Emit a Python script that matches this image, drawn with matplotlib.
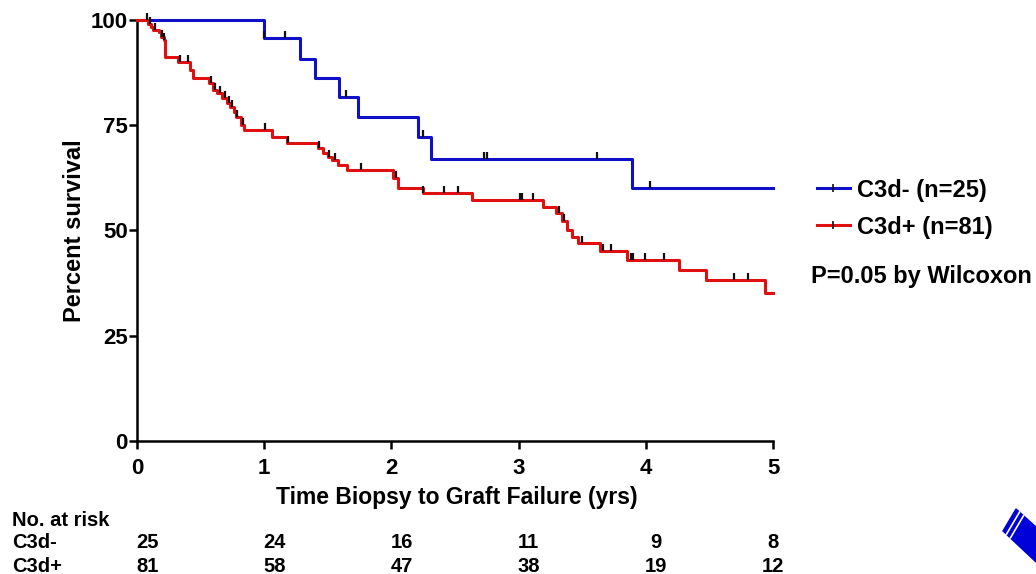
import matplotlib
matplotlib.use("Agg")
import matplotlib.pyplot as plt
from matplotlib.path import Path
from matplotlib.patches import Polygon
import numpy as np

plt.rcParams["font.family"] = ["Liberation Sans", "DejaVu Sans"]
plt.rcParams["font.weight"] = "bold"

# Kaplan-Meier steps (time in yrs, percent survival after the drop)
neg_times = [0.0, 1.00, 1.28, 1.40, 1.59, 1.74, 2.21, 2.31, 3.89]
neg_surv = [100.0, 95.7, 90.7, 86.2, 81.7, 77.0, 72.2, 67.0, 60.1]
neg_censor = [0.08, 1.00, 1.16, 1.64, 2.25, 2.73, 2.75, 3.62, 4.03]

pos_times = [0.0, 0.09, 0.11, 0.13, 0.17, 0.19, 0.21, 0.22, 0.32, 0.42, 0.44,
             0.57, 0.60, 0.63, 0.67, 0.71, 0.73, 0.76, 0.78, 0.82, 0.84,
             1.06, 1.18, 1.42, 1.46, 1.50, 1.53, 1.58, 1.65, 2.01, 2.05,
             2.25, 2.63, 3.19, 3.29, 3.34, 3.38, 3.42, 3.47, 3.64, 3.85,
             4.26, 4.47, 4.94]
pos_surv = [100.0, 99.0, 98.4, 97.6, 97.2, 96.0, 95.2, 91.3, 90.1, 88.1, 86.1,
            85.0, 83.4, 82.6, 81.4, 80.2, 79.4, 78.2, 77.0, 75.1, 73.9,
            72.2, 70.8, 69.6, 68.4, 67.5, 66.7, 65.6, 64.3, 62.5, 60.1,
            58.9, 57.2, 55.6, 54.2, 52.3, 50.1, 48.5, 47.0, 45.1, 43.0,
            40.6, 38.2, 35.2]
pos_censor = [0.10, 0.14, 0.20, 0.21, 0.34, 0.40, 0.58, 0.61, 0.65, 0.69,
              0.72, 0.75, 0.79, 0.83, 1.01, 1.19, 1.43, 1.51, 1.56, 1.76,
              2.04, 2.25, 2.41, 2.52, 3.01, 3.03, 3.11, 3.32, 3.36, 3.50,
              3.66, 3.73, 3.88, 3.90, 3.99, 4.14, 4.69, 4.80]
t_end = 5.0

risk_times = [0, 1, 2, 3, 4, 5]
risk_neg = [25, 24, 16, 11, 9, 8]
risk_pos = [81, 58, 47, 38, 19, 12]

neg_label = "C3d- (n=25)"
pos_label = "C3d+ (n=81)"
p_text = "P=0.05 by Wilcoxon"

BLUE = "#1010c8"
RED = "#e01010"


def step_xy(times, surv, end):
    xs = list(times) + [end]
    ys = list(surv) + [surv[-1]]
    return xs, ys


def surv_at(times, surv, t):
    idx = np.searchsorted(times, t, side="right") - 1
    return surv[max(idx, 0)]


tick_up = Path([(0, 0), (0, 1)])

fig = plt.figure(figsize=(10.36, 5.74), dpi=100)
ax = fig.add_axes([0.1322, 0.2317, 0.6140, 0.7335])

for times, surv, cens, col, lab in [(neg_times, neg_surv, neg_censor, BLUE, neg_label),
                                    (pos_times, pos_surv, pos_censor, RED, pos_label)]:
    xs, ys = step_xy(times, surv, t_end)
    ax.step(xs, ys, where="post", color=col, lw=2.2, clip_on=False, zorder=3)
    cy = [surv_at(times, surv, c) for c in cens]
    ax.plot(cens, cy, ls="none", marker=tick_up, ms=10, mew=1.6, color="#111111",
            clip_on=False, zorder=4)
    # legend handle
    ax.plot([], [], color=col, lw=2.2, marker="|", ms=6, mew=1.2, mec="#111111", label=lab)

ax.set_xlim(0, 5)
ax.set_ylim(0, 100)
ax.set_xticks(range(6))
ax.set_yticks([0, 25, 50, 75, 100])
ax.tick_params(axis="both", labelsize=16, width=1.8, length=6)
ax.tick_params(axis="x", pad=6)
ax.tick_params(axis="y", pad=0.5)
for lbl in ax.get_xticklabels() + ax.get_yticklabels():
    lbl.set_fontweight("bold")
ax.spines["top"].set_visible(False)
ax.spines["right"].set_visible(False)
ax.spines["left"].set_linewidth(1.8)
ax.spines["bottom"].set_linewidth(1.8)
ax.set_xlabel("Time Biopsy to Graft Failure (yrs)", fontsize=16.5, fontweight="bold")
ax.set_ylabel("Percent survival", fontsize=17, fontweight="bold")
ax.xaxis.set_label_coords(0.503, -0.107)
ax.yaxis.set_label_coords(-0.080, 0.5)

leg = ax.legend(loc="center left", bbox_to_anchor=(1.035, 0.552), frameon=False,
                handlelength=1.4, handletextpad=0.3, labelspacing=0.6,
                prop={"weight": "bold", "size": 17})
ax.text(1.06, (441 - 277) / 421, p_text, transform=ax.transAxes, fontsize=17,
        fontweight="bold", va="center", ha="left")

# number at risk table
fs = 14.5
fig.text(12 / 1036, 1 - 520 / 574, "No. at risk", fontsize=fs, fontweight="bold", va="center")
fig.text(12 / 1036, 1 - 543 / 574, "C3d-", fontsize=fs, fontweight="bold", va="center")
fig.text(12 / 1036, 1 - 566 / 574, "C3d+", fontsize=fs, fontweight="bold", va="center")
for t, a, b in zip(risk_times, risk_neg, risk_pos):
    xd = min(t + 0.08, 5.0)
    xf = fig.transFigure.inverted().transform(ax.transData.transform((xd, 0)))[0]
    fig.text(xf, 1 - 543 / 574, str(a), fontsize=fs, fontweight="bold", va="center", ha="center")
    fig.text(xf, 1 - 566 / 574, str(b), fontsize=fs, fontweight="bold", va="center", ha="center")

# blue marker fragment in the lower right corner
W, H = 1036, 574
def fp(x, y):
    return (x / W, 1 - y / H)
fig.patches.append(Polygon([fp(1016, 509), fp(1036, 527), fp(1036, 562), fp(1003, 531)],
                           closed=True, color="#0000d8", transform=fig.transFigure))
for off in (3.5, 7.5):
    x0, y0 = 1003 + off, 531 + off * 0.9
    x1, y1 = 1016 + off, 509 + off * 0.9
    fig.lines.append(plt.Line2D([x0 / W, x1 / W], [1 - y0 / H, 1 - y1 / H],
                                color="white", lw=1.2, transform=fig.transFigure))

fig.savefig("out.png", dpi=100)
